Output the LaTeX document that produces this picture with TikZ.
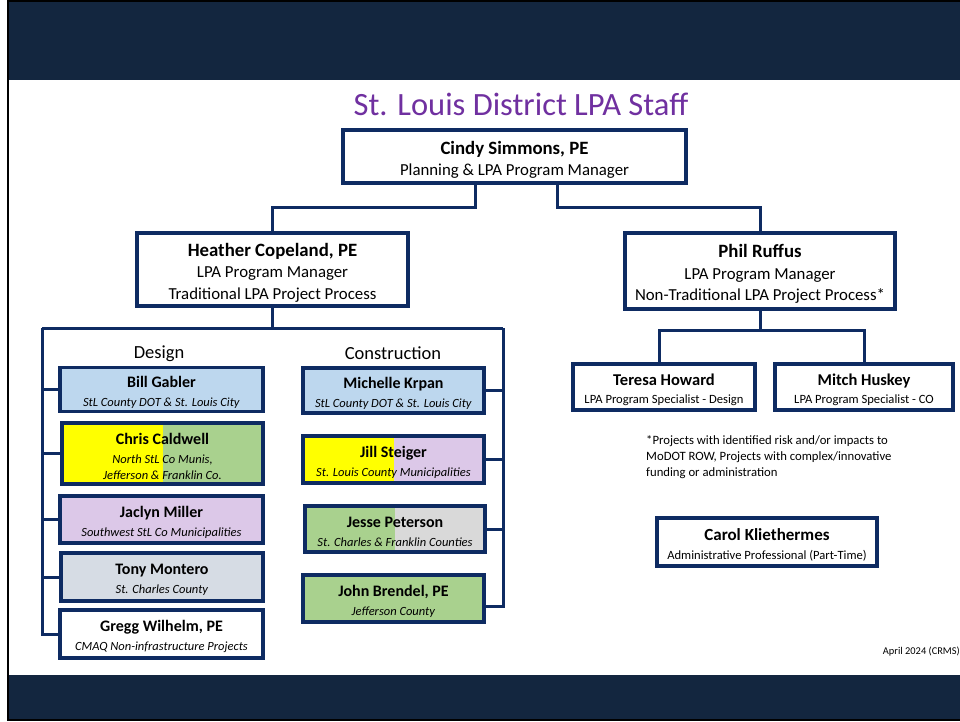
\documentclass[tikz,border=0pt]{standalone}
\usepackage{fontspec}
\setmainfont{Carlito}
\definecolor{band}{HTML}{13263F}
\definecolor{navy}{HTML}{0E2B62}
\definecolor{ttl}{HTML}{7030A0}
\definecolor{ltblue}{HTML}{BDD7EE}
\definecolor{ltgreen}{HTML}{A9D18E}
\definecolor{ltpurple}{HTML}{DCC8E8}
\definecolor{ltgrey}{HTML}{D9D9D9}
\definecolor{bluegrey}{HTML}{D6DCE4}
\definecolor{hilite}{HTML}{FFFF00}
\newcommand{\pname}[2][16]{{\bfseries\fontsize{#1}{#1}\selectfont\rule{0pt}{1.05em}#2}}
\tikzset{
  staff/.style={draw=navy, line width=3.2pt, fill=white, align=center, inner sep=0pt},
  bigbox/.style={staff, font=\fontsize{16.8}{21.5}\selectfont},
  midbox/.style={staff, font=\fontsize{12.5}{19}\selectfont},
  smallbox/.style={staff, font=\fontsize{12.6}{17.5}\selectfont},
  link/.style={draw=navy, line width=3pt},
  halves/.style 2 args={path picture={
      \fill[#1] (path picture bounding box.south west) rectangle (path picture bounding box.north);
      \fill[#2] (path picture bounding box.south) rectangle (path picture bounding box.north east);}},
}
\begin{document}
\begin{tikzpicture}[x=1pt, y=-1pt]
  \useasboundingbox (0,0) rectangle (960,721);
  % slide frame
  \fill[white] (0,0) rectangle (960,721);
  \fill[band] (9,2) rectangle (960,80);
  \fill[band] (9,675) rectangle (960,719);
  \draw[black, line width=2.5pt] (8,0) -- (8,721);
  \draw[black, line width=1.5pt] (8,0.75) -- (960,0.75);
  \draw[black, line width=2pt] (8,720) -- (960,720);

  \node[ttl, font=\fontsize{32.5}{32.5}\selectfont] (title) at (521,104) {St. Louis District LPA Staff};

  % managers
  \node[bigbox, minimum width=343pt, minimum height=53pt] (cindy) at (514.5,156.5)
    {\pname[18.8]{Cindy Simmons, PE}\\Planning \& LPA Program Manager};
  \node[bigbox, minimum width=271pt, minimum height=73pt] (heather) at (272.5,269.5)
    {\pname[18.8]{Heather Copeland, PE}\\LPA Program Manager\\Traditional LPA Project Process};
  \node[bigbox, minimum width=270pt, minimum height=76pt] (phil) at (760,271)
    {\pname[18.8]{Phil Ruffus}\\LPA Program Manager\\Non-Traditional LPA Project Process*};

  \node[font=\fontsize{18.5}{18.5}\selectfont] (design) at (159,354) {Design};
  \node[font=\fontsize{18.5}{18.5}\selectfont] (constr) at (393,353) {Construction};

  % design staff
  \node[midbox, minimum width=203pt, minimum height=44pt, fill=ltblue] (bill) at (161.5,389.5)
    {\pname{Bill Gabler}\\\textit{StL County DOT \& St. Louis City}};
  \node[midbox, font=\fontsize{12.5}{16.5}\selectfont, minimum width=201pt, minimum height=61pt, halves={hilite}{ltgreen}] (chris) at (162.5,453.5)
    {\pname{Chris Caldwell}\\[2.5pt]\textit{North StL Co Munis,}\\\textit{Jefferson \& Franklin Co.}};
  \node[midbox, minimum width=203pt, minimum height=47pt, fill=ltpurple] (jaclyn) at (161.5,519.5)
    {\pname{Jaclyn Miller}\\\textit{Southwest StL Co Municipalities}};
  \node[midbox, minimum width=202pt, minimum height=48pt, fill=bluegrey] (tony) at (162,577)
    {\pname{Tony Montero}\\\textit{St. Charles County}};
  \node[midbox, minimum width=203pt, minimum height=48pt] (gregg) at (161.5,634)
    {\pname{Gregg Wilhelm, PE}\\\textit{CMAQ Non-infrastructure Projects}};

  % construction staff
  \node[midbox, minimum width=181pt, minimum height=45pt, fill=ltblue] (michelle) at (393.5,390.5)
    {\pname{Michelle Krpan}\\\textit{StL County DOT \& St. Louis City}};
  \node[midbox, minimum width=181pt, minimum height=47pt, halves={hilite}{ltpurple}] (jill) at (393.5,459.5)
    {\pname{Jill Steiger}\\\textit{St. Louis County Municipalities}};
  \node[midbox, minimum width=180pt, minimum height=46pt, halves={ltgreen}{ltgrey}] (jesse) at (395,529)
    {\pname{Jesse Peterson}\\\textit{St. Charles \& Franklin Counties}};
  \node[midbox, minimum width=181pt, minimum height=47pt, fill=ltgreen] (john) at (393.5,598.5)
    {\pname{John Brendel, PE}\\\textit{Jefferson County}};

  % non-traditional staff
  \node[smallbox, minimum width=182pt, minimum height=46pt] (teresa) at (664,387)
    {\pname[16.5]{Teresa Howard}\\LPA Program Specialist - Design};
  \node[smallbox, minimum width=178pt, minimum height=46pt] (mitch) at (864,387)
    {\pname[16.5]{Mitch Huskey}\\LPA Program Specialist - CO};
  \node[smallbox, font=\fontsize{12.6}{18.5}\selectfont, minimum width=220pt, minimum height=48pt] (carol) at (767,542)
    {\pname[17]{Carol Kliethermes}\\Administrative Professional (Part-Time)};

  \node[anchor=west, align=left, inner sep=0pt, font=\fontsize{12.7}{16}\selectfont] (note) at (646,457)
    {*Projects with identified risk and/or impacts to\\MoDOT ROW, Projects with complex/innovative\\funding or administration};
  \node[anchor=east, inner sep=0pt, font=\fontsize{10.4}{10.4}\selectfont] (date) at (960,652) {April 2024 (CRMS)};

  % connectors
  \coordinate (lj) at (475,207);
  \coordinate (rjj) at (557,207);
  \coordinate (dtop) at (42,328);
  \coordinate (ctop) at (503,328);
  \coordinate (pj) at (760,330);
  \draw[link] (cindy.south -| lj) -- (lj) -| (heather.north);
  \draw[link] (cindy.south -| rjj) -- (rjj) -| (phil.north);
  \draw[link] (heather.south) -- (heather.south |- dtop);
  \draw[link] (dtop) -- (ctop);
  \draw[link] (dtop) |- (gregg.west);
  \foreach \n in {bill,chris,jaclyn,tony}
    \draw[link] (\n.west -| dtop) -- (\n.west);
  \draw[link] (ctop) |- ([yshift=-8pt]john.east);
  \foreach \n in {michelle,jill,jesse}
    \draw[link] (\n.east -| ctop) -- (\n.east);
  \draw[link] (phil.south) -- (pj);
  \draw[link] ([xshift=-5pt]teresa.north) |- (pj) -| (mitch.north);
\end{tikzpicture}
\end{document}
